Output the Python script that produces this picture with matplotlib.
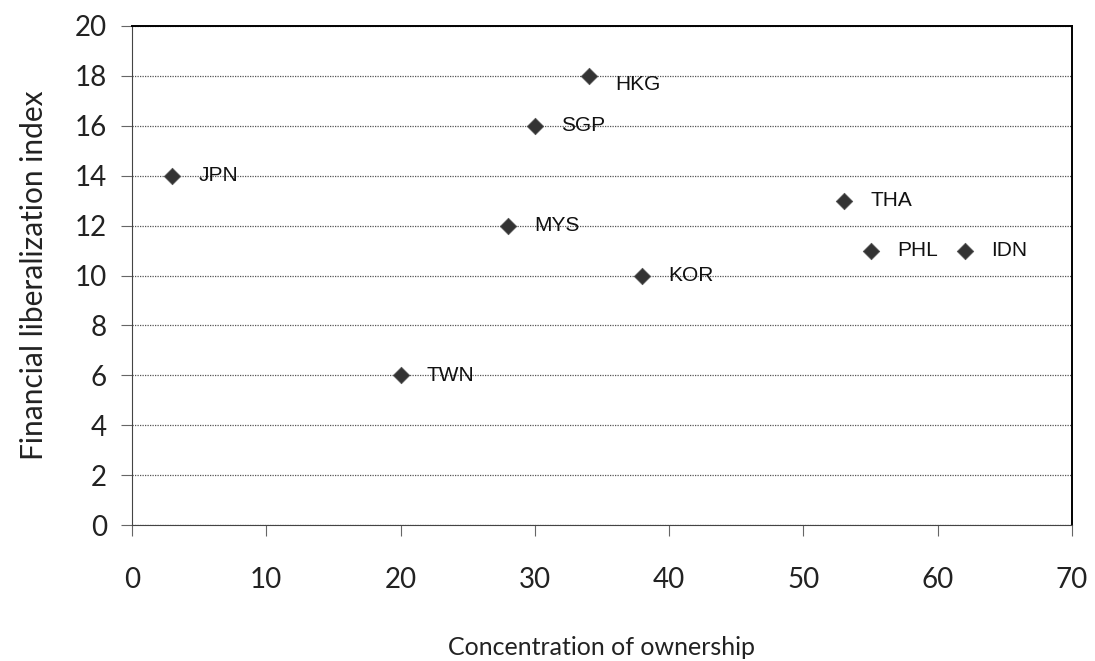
import matplotlib
matplotlib.use("Agg")
import matplotlib.pyplot as plt

# data
landen = ["JPN", "HKG", "SGP", "MYS", "KOR", "TWN", "THA", "PHL", "IDN"]
eigendom = [3, 34, 30, 28, 38, 20, 53, 55, 62]
liberalisatie = [14, 18, 16, 12, 10, 6, 13, 11, 11]

x_ticks = list(range(0, 71, 10))
y_ticks = list(range(0, 21, 2))

fig = plt.figure(figsize=(10.95, 6.61), dpi=100)
ax = fig.add_axes([0.1205, 0.2057, 0.8585, 0.755])

ax.scatter(eigendom, liberalisatie, marker="D", s=70, color="#333333",
           edgecolors="#555555", linewidths=0.6, zorder=3)

for naam, x, y in zip(landen, eigendom, liberalisatie):
    dy = -6 if naam == "HKG" else 0
    ax.annotate(naam, (x, y), xytext=(19, dy), textcoords="offset points",
                ha="left", va="center", fontsize=15,
                family=["Liberation Sans", "DejaVu Sans"],
                color="#111111", zorder=4)

ax.set_xlim(0, 70)
ax.set_ylim(0, 20)
ax.set_xticks(x_ticks)
ax.set_yticks(y_ticks)

# dotted horizontal grid like the Excel original
ax.yaxis.grid(True, linestyle=(0, (1, 1)), color="#555555", linewidth=0.9)
ax.set_axisbelow(True)

for kant in ["top", "right"]:
    ax.spines[kant].set_color("black")
    ax.spines[kant].set_linewidth(1.4)
ax.spines["left"].set_linestyle((0, (1, 1)))
ax.spines["left"].set_color("#444444")
ax.spines["bottom"].set_linestyle((0, (1, 1)))
ax.spines["bottom"].set_color("#444444")

ax.tick_params(axis="both", direction="out", length=8, width=0.8,
               color="#666666", labelsize=20, labelcolor="#222222")
ax.tick_params(axis="x", pad=22)
ax.tick_params(axis="y", pad=10)
for lab in ax.get_xticklabels() + ax.get_yticklabels():
    lab.set_family(["Lato", "DejaVu Sans"])

ax.set_xlabel("Concentration of ownership", fontsize=18,
              family=["Lato", "DejaVu Sans"], labelpad=31, color="#222222")
ax.set_ylabel("Financial liberalization index", fontsize=21.5,
              family=["Lato", "DejaVu Sans"], labelpad=19, color="#222222")

fig.savefig("out.png", dpi=100)
